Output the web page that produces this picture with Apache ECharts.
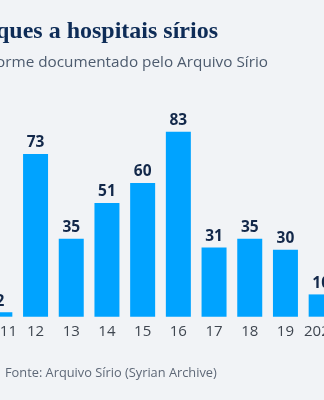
<!DOCTYPE html>
<html>
<head>
<meta charset="utf-8">
<script src="https://cdn.jsdelivr.net/npm/echarts@6/dist/echarts.min.js"></script>
<style>
html,body{margin:0;padding:0;width:324px;height:400px;overflow:hidden;background:#f1f3f6;}
#c{position:absolute;left:-100px;top:0;width:524px;height:400px;}
</style>
</head>
<body>
<div id="c"></div>
<script>
const categories = ['2011','12','13','14','15','16','17','18','19','2020'];
const attacks = [2, 73, 35, 51, 60, 83, 31, 35, 30, 10];
const titleText = 'Ataques a hospitais sírios';
const subtitleText = 'Número de ataques, conforme documentado pelo Arquivo Sírio';
const sourceText = 'Fonte: Arquivo Sírio (Syrian Archive)';

const chart = echarts.init(document.getElementById('c'), null, {renderer:'canvas'});
chart.setOption({
  backgroundColor: '#f1f3f6',
  animation: false,
  title: [
    {text: titleText, right: 206, top: 19, padding: 0,
     textStyle: {fontFamily: 'Liberation Serif', fontWeight: 'bold', fontSize: 24, color: '#0e2c57', lineHeight: 26}},
    {text: subtitleText, right: 156, top: 54, padding: 0,
     textStyle: {fontFamily: 'Open Sans', fontWeight: 'normal', fontSize: 15.3, color: '#4d5b6e', lineHeight: 18}},
    {text: sourceText, left: 105, top: 365, padding: 0,
     textStyle: {fontFamily: 'Open Sans', fontWeight: 'normal', fontSize: 12.8, color: '#5e6877', lineHeight: 16}}
  ],
  grid: {left: 82, right: 85, top: 93.8, bottom: 83.3, containLabel: false},
  xAxis: {
    type: 'category', data: categories,
    axisLine: {show: false}, axisTick: {show: false},
    axisLabel: {color: '#3f4650', fontFamily: 'Open Sans', fontSize: 15, margin: 8, interval: 0}
  },
  yAxis: {type: 'value', min: 0, max: 100, show: false, splitLine: {show: false}},
  series: [{
    type: 'bar', data: attacks, barCategoryGap: '30%',
    itemStyle: {color: '#00a3ff'},
    label: {show: true, position: 'top', distance: 3, color: '#13284a',
      fontFamily: 'Open Sans', fontWeight: 'bold', fontSize: 15.5}
  }]
});
</script>
</body>
</html>
